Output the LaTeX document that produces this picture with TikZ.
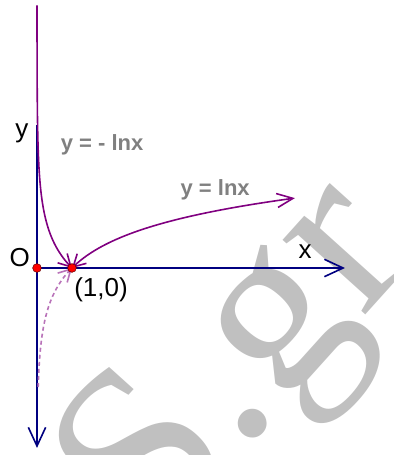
\documentclass[tikz,border=0pt]{standalone}
\usepackage{fontspec}
\setmainfont{Liberation Sans}
\newfontfamily\wmfont{Liberation Serif}
\usetikzlibrary{arrows.meta}
\definecolor{axisblue}{RGB}{0,0,128}
\definecolor{curvepurple}{RGB}{128,0,128}
\definecolor{wmgray}{RGB}{192,192,192}

\begin{document}
\begin{tikzpicture}[x=26.25pt,y=26.25pt,
  axis/.style={axisblue,line width=1.2pt,-{Straight Barb[length=14pt,width=13pt]}},
  curve/.style={curvepurple,line width=1.2pt},
  dot/.style={circle,fill=red,draw=red!40!black,line width=.4pt,inner sep=0pt,minimum size=6.5pt},
  lbl/.style={inner sep=0pt,font=\fontsize{19.5}{20}\selectfont},
  glbl/.style={inner sep=0pt,text=gray,font=\fontsize{16.5}{17}\selectfont\bfseries}]
\useasboundingbox (-1.057,-5.343) rectangle (10.2,7.657);
% watermark
\node[wmgray,rotate=48,anchor=base,inner sep=0pt,font=\fontsize{182}{182}\wmfont] (wm) at (7.05,-3.95) {S.gr};
% axes
\coordinate (O) at (0,0);
\coordinate (A) at (1,0);
\coordinate (ytop) at (0,4.09);
\coordinate (ybot) at (0,-5.14);
\coordinate (xend) at (8.8,0);
\draw[axis] (ytop) -- (ybot);
\draw[axis] (O) -- (xend);
% y = -lnx
\draw[curve,-{Straight Barb[length=9pt,width=10pt]}] plot[variable=\t,domain=7.5:0,samples=150] ({exp(-\t)},\t);
% y = lnx
\draw[curve,{Straight Barb[length=9pt,width=10pt]}-{Straight Barb[length=12pt,width=10.5pt]}] plot[domain=1:7.37,samples=80] (\x,{ln(\x)});
\draw[curve,curvepurple!55,dash pattern=on 3pt off 2.3pt,-{Straight Barb[length=9pt,width=10pt]}] plot[variable=\t,domain=-3.4:0,samples=80] ({exp(\t)},\t);
% points
\node[dot] (Odot) at (O) {};
\node[dot] (Adot) at (A) {};
% labels
\node[lbl] (ylbl) at (-0.43,3.86) {y};
\node[lbl] (Olbl) at (-0.49,0.29) {O};
\node[lbl] (xlbl) at (7.66,0.46) {x};
\node[lbl] (Albl) at (1.83,-0.63) {(1,0)};
\node[glbl] (neglbl) at (1.86,3.51) {y = - lnx};
\node[glbl] (poslbl) at (5.09,2.23) {y = lnx};
\end{tikzpicture}
\end{document}
